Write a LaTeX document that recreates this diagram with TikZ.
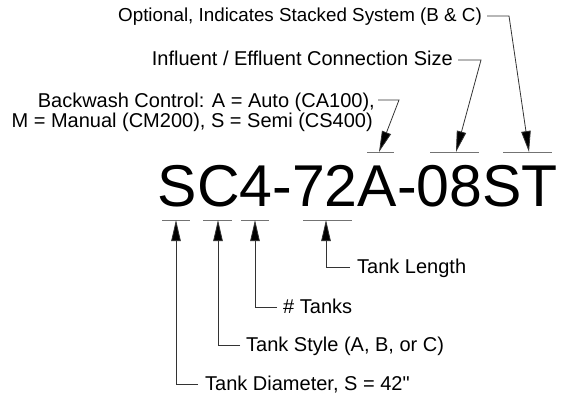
\documentclass[tikz,border=0pt]{standalone}
\usepackage{fontspec}
\setmainfont{Liberation Sans}
\newfontfamily\lib{Liberation Sans}
\usetikzlibrary{arrows.meta}
\begin{document}
\begin{tikzpicture}[x=1pt,y=-1pt,
  lbl/.style={inner sep=0pt,font=\lib\fontsize{20}{24}\selectfont},
  big/.style={inner sep=0pt,font=\lib\fontsize{59}{59}\selectfont},
  bar/.style={draw=black!55,line width=1pt},
  lead/.style={draw=black!80,line width=0.8pt},
  arr/.style={lead,-{Triangle[length=21pt,width=9.5pt,fill=black]}}]
\useasboundingbox (0,0) rectangle (567,394);
\node[big,anchor=base west] (code) at (157.5,206) {SC4-72A-08ST};
% under / over bars
\coordinate (u1a) at (162,220); \coordinate (u1b) at (190,220);
\coordinate (u2a) at (203,220); \coordinate (u2b) at (232,220);
\coordinate (u3a) at (241,220); \coordinate (u3b) at (269,220);
\coordinate (u4a) at (303,220); \coordinate (u4b) at (352,220);
\coordinate (o1a) at (367,152); \coordinate (o1b) at (394,152);
\coordinate (o2a) at (430,152); \coordinate (o2b) at (479,152);
\coordinate (o3a) at (503,152); \coordinate (o3b) at (552,152);
\foreach \a/\b in {u1a/u1b,u2a/u2b,u3a/u3b,u4a/u4b,o1a/o1b,o2a/o2b,o3a/o3b}
  \draw[bar] (\a) -- (\b);
% tips
\coordinate (t1) at (176,220); \coordinate (t2) at (218,220);
\coordinate (t3) at (255,220); \coordinate (t4) at (326,220);
\coordinate (p1) at (379,152); \coordinate (p2) at (456,152);
\coordinate (p3) at (529,152);
% bottom labels
\node[lbl,anchor=base west] (len) at (357,273) {Tank Length};
\node[lbl,anchor=base west] (num) at (283,313) {\# Tanks};
\node[lbl,anchor=base west] (sty) at (246,351) {Tank Style (A, B, or C)};
\node[lbl,anchor=base west] (dia) at (205,390) {Tank Diameter, S = 42"};
\coordinate (l4) at (350,267); \coordinate (l3) at (277,307);
\coordinate (l2) at (240,345); \coordinate (l1) at (198,384);
\draw[arr] (l4) -| (t4);
\draw[arr] (l3) -| (t3);
\draw[arr] (l2) -| (t2);
\draw[arr] (l1) -| (t1);
% top labels
\node[lbl,font=\lib\fontsize{18.8}{22}\selectfont,anchor=base east] (opt) at (482,21) {Optional, Indicates Stacked System (B \& C)};
\node[lbl,anchor=base east] (inf) at (453,65) {Influent / Effluent Connection Size};
\node[lbl,anchor=base east] (bw1) at (375,107) {Backwash Control: A = Auto (CA100),};
\node[lbl,anchor=base east] (bw2) at (373,127) {M = Manual (CM200), S = Semi (CS400)};
\coordinate (q3a) at (487,16); \coordinate (q3b) at (509,16);
\coordinate (q2a) at (458,60); \coordinate (q2b) at (481,60);
\coordinate (q1a) at (378,100); \coordinate (q1b) at (399,100);
\draw[arr] (q3a) -- (q3b) -- (p3);
\draw[arr] (q2a) -- (q2b) -- (p2);
\draw[arr] (q1a) -- (q1b) -- (p1);
\end{tikzpicture}
\end{document}
